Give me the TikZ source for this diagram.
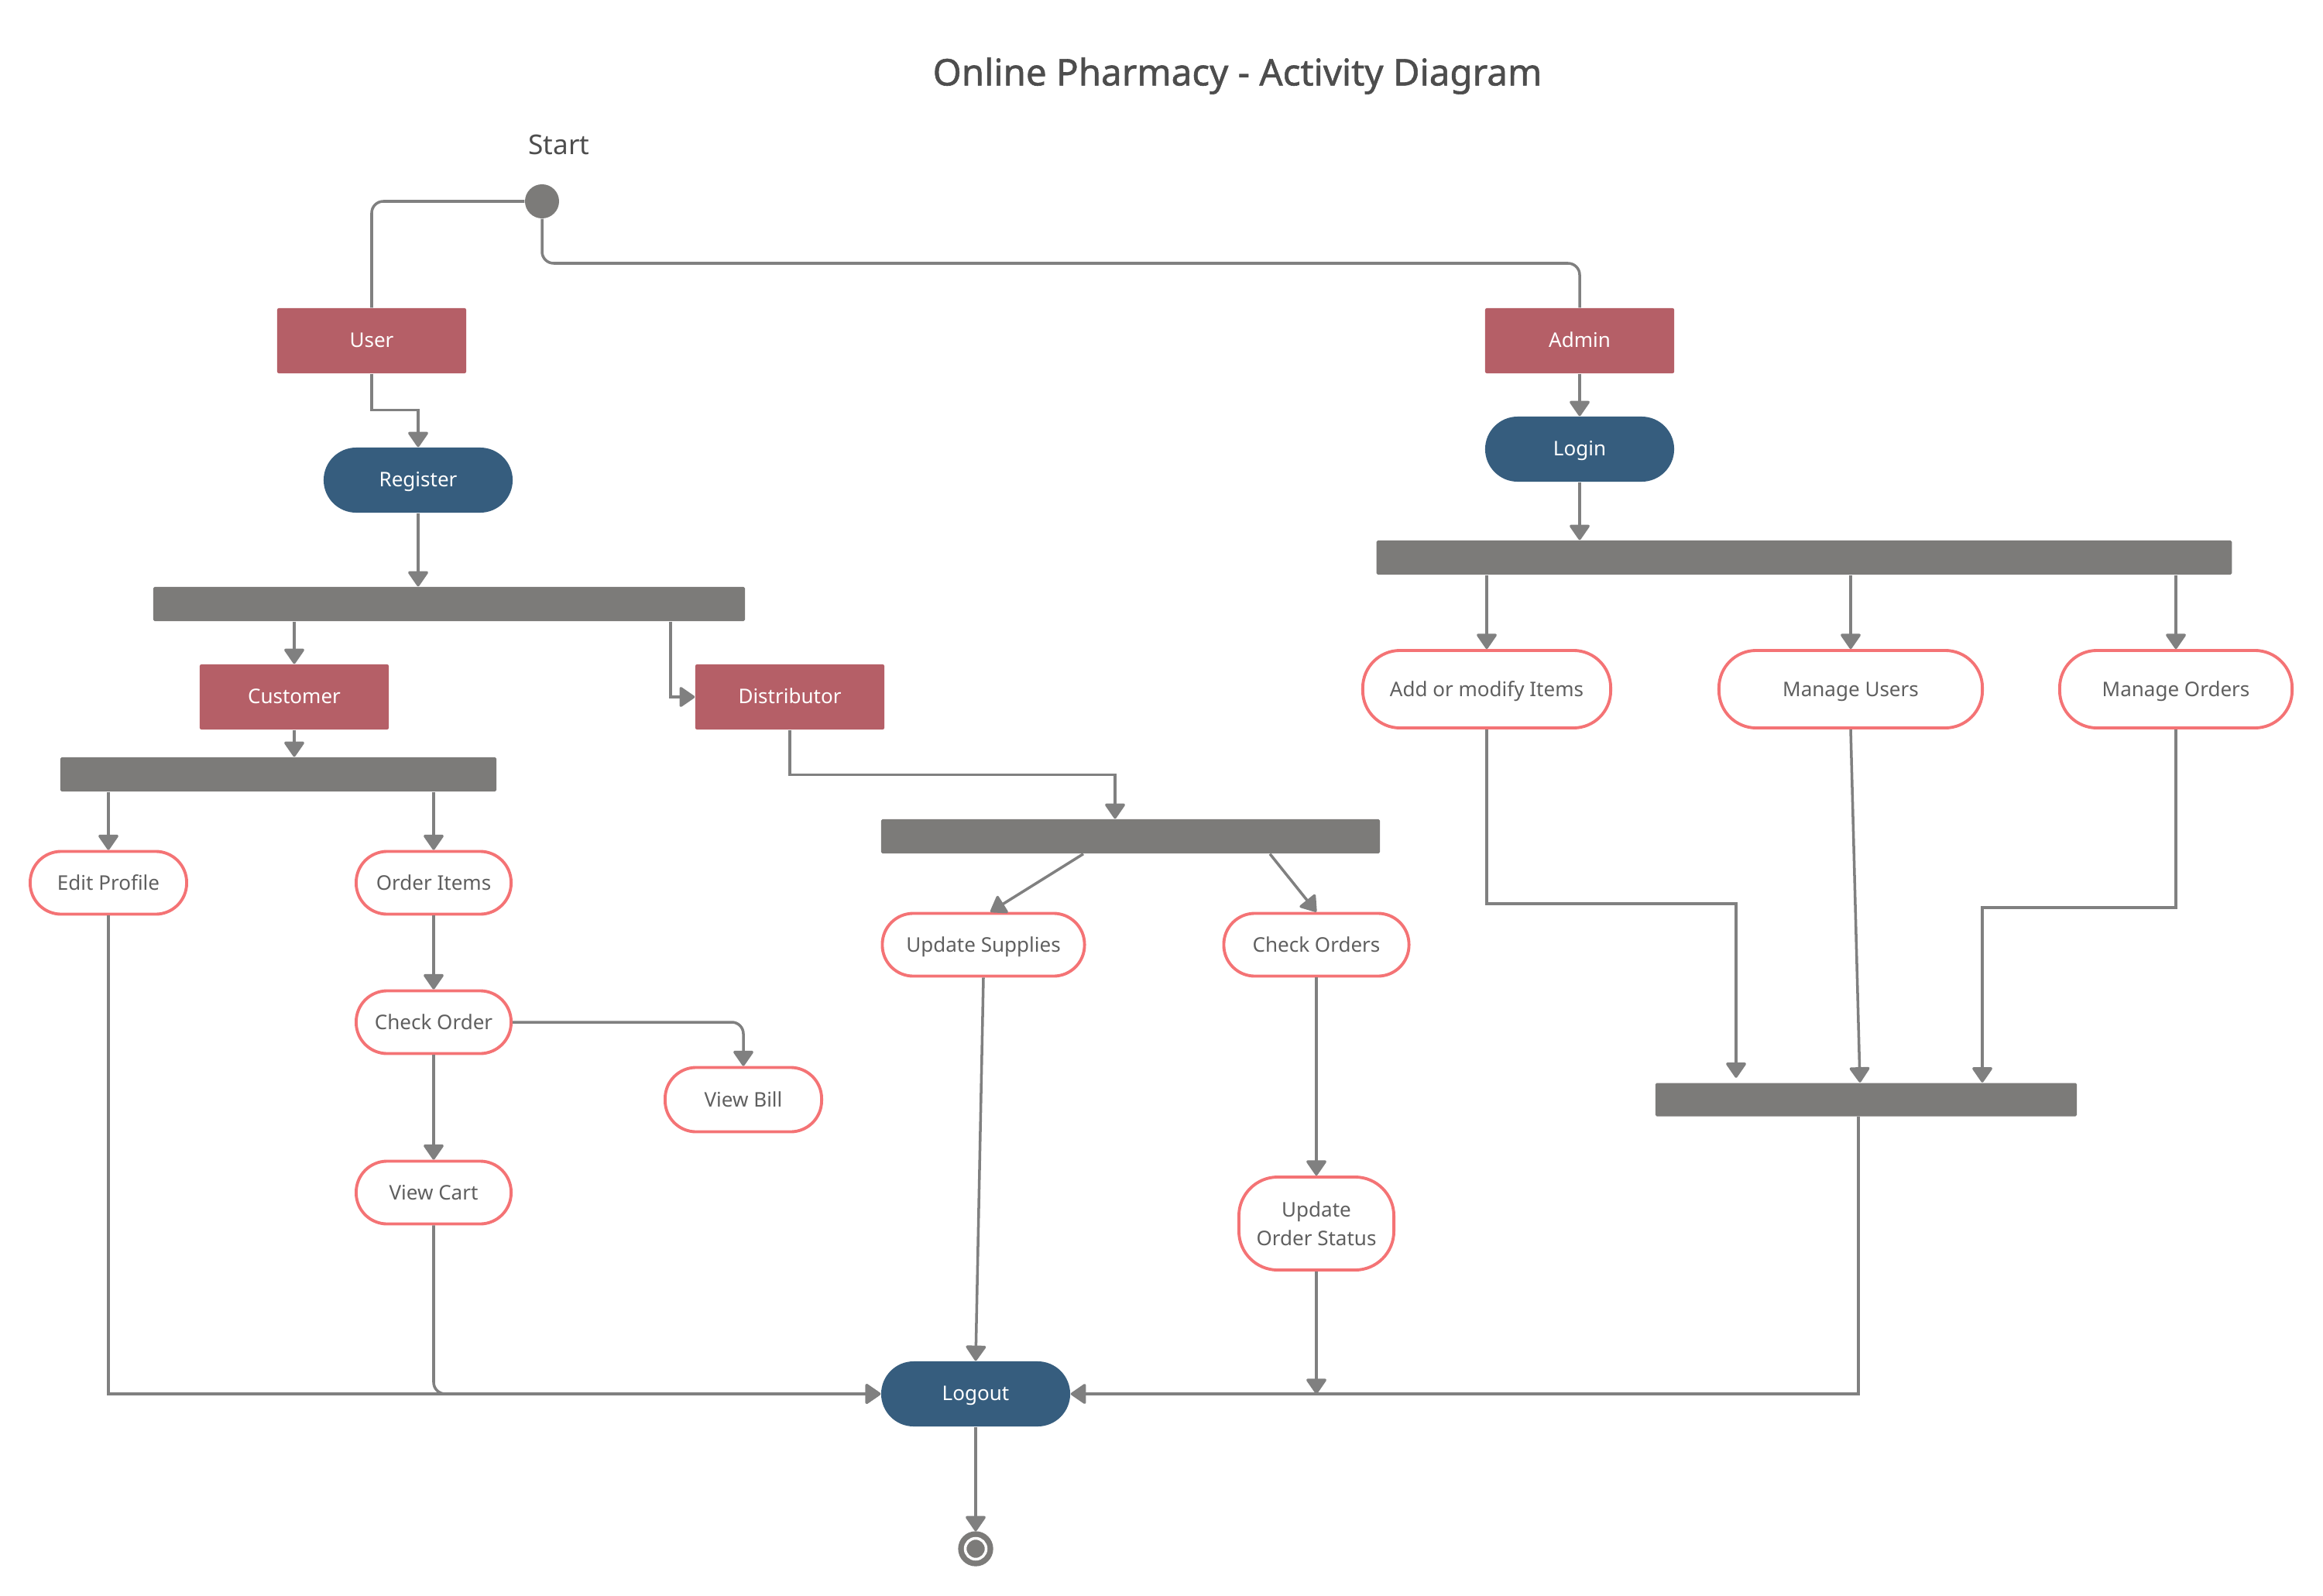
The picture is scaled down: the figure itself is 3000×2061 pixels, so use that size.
\documentclass[tikz,border=0pt]{standalone}
\usepackage{fontspec}
\setmainfont{Noto Sans}
\newfontfamily\titlefont[FakeBold=1.2]{Noto Sans}
\usetikzlibrary{arrows.meta,calc,positioning}
\definecolor{roleRed}{HTML}{B55F67}
\definecolor{termBlue}{HTML}{365D7E}
\definecolor{actPink}{HTML}{F47375}
\definecolor{lineGray}{HTML}{808080}
\definecolor{barGray}{HTML}{7C7B79}
\definecolor{txtGray}{HTML}{5F5F5F}
\definecolor{titleGray}{HTML}{4D4D4D}
\tikzset{
  rolebox/.style={rectangle, fill=roleRed, text=white, minimum width=2.44cm, minimum height=0.84cm, inner sep=0pt, rounded corners=0.6pt, text height=5.6pt, text depth=1pt, font=\fontsize{7.4}{9}\selectfont},
  termbox/.style={rectangle, fill=termBlue, text=white, minimum width=2.44cm, minimum height=0.84cm, inner sep=0pt, rounded corners=0.42cm, text height=5.6pt, text depth=1pt, font=\fontsize{7.4}{9}\selectfont},
  actbox/.style={rectangle, draw=actPink, line width=1.1pt, fill=white, text=txtGray, minimum height=0.81cm, inner sep=0pt, rounded corners=0.4cm, align=center, font=\fontsize{7.4}{10.5}\selectfont},
  actone/.style={actbox, text height=6pt, text depth=0.7pt},
  syncbar/.style={rectangle, fill=barGray, minimum height=0.44cm, inner sep=0pt, rounded corners=0.5pt},
  conn/.style={draw=lineGray, line width=1pt},
  arr/.style={conn, -{Triangle[length=6pt,width=8pt,round]}},
}
\begin{document}
\begin{tikzpicture}[x=0.01cm, y=-0.01cm]
\useasboundingbox (0,0) rectangle (3000,2061);
% title and start label
\node[text=titleGray, font=\titlefont\fontsize{13.5}{15}\selectfont] (title) at (1598,98) {Online Pharmacy - Activity Diagram};
\node[text=titleGray, font=\fontsize{10}{12}\selectfont] (startlbl) at (722,187) {Start};
% initial and final nodes
\node[circle, fill=barGray, minimum size=0.44cm, inner sep=0pt] (start) at (700,260) {};
\node[circle, draw=barGray, line width=1.5pt, fill=barGray, minimum size=0.40cm, inner sep=0pt] (finish) at (1260,2000) {};
\draw[white, line width=1pt] (finish.center) circle (0.135cm);
% roles
\node[rolebox] (user) at (480,440) {User};
\node[rolebox] (admin) at (2040,440) {Admin};
\node[rolebox] (customer) at (380,900) {Customer};
\node[rolebox] (distributor) at (1020,900) {Distributor};
% terminals
\node[termbox] (register) at (540,620) {Register};
\node[termbox] (login) at (2040,580) {Login};
\node[termbox] (logout) at (1260,1800) {Logout};
% bars
\node[syncbar, minimum width=7.64cm] (regbar) at (580,780) {};
\node[syncbar, minimum width=11.04cm] (adminbar) at (2330,720) {};
\node[syncbar, minimum width=5.63cm] (custbar) at (359.5,1000) {};
\node[syncbar, minimum width=6.44cm] (distbar) at (1460,1080) {};
\node[syncbar, minimum width=5.44cm, minimum height=0.43cm] (joinbar) at (2410,1420) {};
% activities
\node[actone, minimum width=3.2cm, minimum height=1.0cm, rounded corners=0.48cm] (addmod) at (1920,890) {Add or modify Items};
\node[actone, minimum width=3.4cm, minimum height=1.0cm, rounded corners=0.48cm] (manusers) at (2390,890) {Manage Users};
\node[actone, minimum width=3.0cm, minimum height=1.0cm, rounded corners=0.48cm] (manorders) at (2810,890) {Manage Orders};
\node[actone, minimum width=2.02cm] (editprofile) at (140,1140) {Edit Profile};
\node[actone, minimum width=2.0cm] (orderitems) at (560,1140) {Order Items};
\node[actone, minimum width=2.0cm] (checkorder) at (560,1320) {Check Order};
\node[actone, minimum width=2.02cm, minimum height=0.83cm] (viewbill) at (960,1420) {View Bill};
\node[actone, minimum width=2.0cm] (viewcart) at (560,1540) {View Cart};
\node[actone, minimum width=2.61cm] (updsup) at (1270,1220) {Update Supplies};
\node[actone, minimum width=2.39cm] (checkorders) at (1700,1220) {Check Orders};
\node[actbox, minimum width=2.0cm, minimum height=1.2cm, rounded corners=0.5cm] (updstatus) at (1700,1580) {Update\\Order Status};
% helper coordinates
\coordinate (dtop) at ($(distbar.north)+(-20,0)$);
\coordinate (j1) at ($(joinbar.north)+(-168,-6)$);
\coordinate (j2) at ($(joinbar.north)+(-8,0)$);
\coordinate (j3) at ($(joinbar.north)+(150,0)$);
\coordinate (jout) at ($(joinbar.south)+(-10,0)$);
\coordinate (usend) at (updstatus.south |- logout.east);
% connectors
\draw[conn, rounded corners=0.15cm] (start.west) -| (user.north);
\draw[conn, rounded corners=0.15cm] (start.south) |- (1500,340) -| (admin.north);
\draw[arr] (user.south) -- ++(0,47) -| (register.north);
\draw[arr] (admin.south) -- (login.north);
\draw[arr] (register.south) -- (register.south |- regbar.north);
\draw[arr] (login.south) -- (login.south |- adminbar.north);
\draw[arr] (customer.north |- regbar.south) -- (customer.north);
\draw[arr] ($(regbar.south)+(286,0)$) |- (distributor.west);
\draw[arr] (customer.south) -- (customer.south |- custbar.north);
\draw[arr] (editprofile.north |- custbar.south) -- (editprofile.north);
\draw[arr] (orderitems.north |- custbar.south) -- (orderitems.north);
\draw[arr] (orderitems.south) -- (checkorder.north);
\draw[arr] (checkorder.south) -- (viewcart.north);
\draw[arr, rounded corners=0.15cm] (checkorder.east) -| (viewbill.north);
\draw[arr] (distributor.south) -- ++(0,58) -| (dtop);
\draw[arr] ($(distbar.south)+(-61,0)$) -- ($(updsup.north)+(9,0)$);
\draw[arr] ($(distbar.south)+(180,0)$) -- (checkorders.north);
\draw[arr] (checkorders.south) -- (updstatus.north);
\draw[arr] (updsup.south) -- (logout.north);
\draw[arr] (updstatus.south) -- (usend);
\draw[arr] (editprofile.south) |- (logout.west);
\draw[arr, rounded corners=0.15cm] (viewcart.south) |- (logout.west);
\draw[arr] (jout) |- (logout.east);
\draw[arr] (logout.south) -- (finish.north);
\draw[arr] (addmod.north |- adminbar.south) -- (addmod.north);
\draw[arr] (manusers.north |- adminbar.south) -- (manusers.north);
\draw[arr] (manorders.north |- adminbar.south) -- (manorders.north);
\draw[arr] (addmod.south) -- ++(0,225) -| (j1);
\draw[arr] (manusers.south) -- (j2);
\draw[arr] (manorders.south) -- ++(0,230) -| (j3);
\end{tikzpicture}
\end{document}
